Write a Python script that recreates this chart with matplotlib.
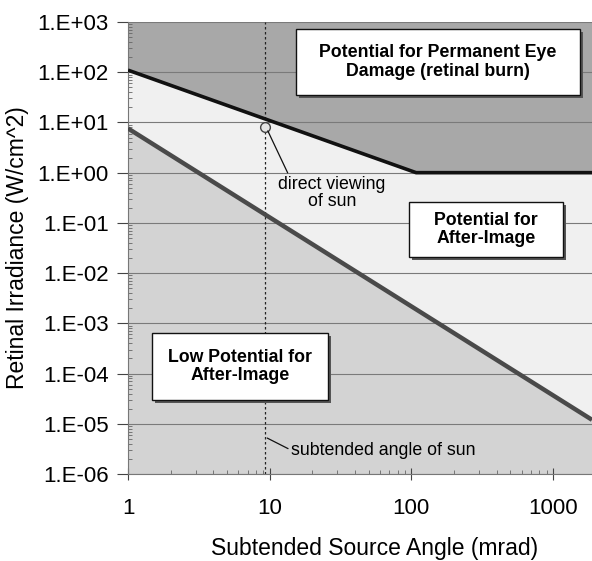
import matplotlib
matplotlib.use("Agg")
import matplotlib.pyplot as plt
from matplotlib.patches import Rectangle
import numpy as np

plt.rcParams['font.family'] = ['Liberation Sans', 'DejaVu Sans']

# ---- data ----
upper_x = [1, 108, 1883]          # permanent damage threshold (mrad)
upper_y = [110, 1.0, 1.0]         # W/cm^2
lower_x = [1, 1883]               # after-image threshold
lower_y = [7.6, 1.2e-5]           # W/cm^2
sun_angle = 9.3
sun_irr = 8.3
y_ticks = [1e-6, 1e-5, 1e-4, 1e-3, 1e-2, 1e-1, 1e0, 1e1, 1e2, 1e3]
y_ticklabels = ["1.E-06", "1.E-05", "1.E-04", "1.E-03", "1.E-02",
                "1.E-01", "1.E+00", "1.E+01", "1.E+02", "1.E+03"]
x_ticks = [1, 10, 100, 1000]
x_ticklabels = ["1", "10", "100", "1000"]

W, H = 592, 561
fig = plt.figure(figsize=(W / 100, H / 100), dpi=100)
L, R, T, B = 128, 592, 22, 474
ax = fig.add_axes([L / W, (H - B) / H, (R - L) / W, (B - T) / H])
ax.set_xscale('log')
ax.set_yscale('log')
ax.set_xlim(1, 1883)
ax.set_ylim(1e-6, 1e3)

# regions
xs = np.logspace(0, np.log10(1883), 400)
up = np.interp(np.log10(xs), np.log10(upper_x), np.log10(upper_y))
lo = np.interp(np.log10(xs), np.log10(lower_x), np.log10(lower_y))
ax.fill_between(xs, 10**up, 1e3, color='#a8a8a8', lw=0, zorder=0)
ax.fill_between(xs, 10**lo, 10**up, color='#f0f0f0', lw=0, zorder=0)
ax.fill_between(xs, 1e-6, 10**lo, color='#d3d3d3', lw=0, zorder=0)

# grid
for yv in y_ticks:
    ax.axhline(yv, color='#7a7a7a', lw=0.8, zorder=1)

ax.axvline(sun_angle, color='#222222', lw=0.9, ls=(0, (2, 2)), zorder=2)

ax.plot(upper_x, upper_y, color='#111111', lw=2.6, zorder=3, solid_capstyle='butt')
ax.plot(lower_x, lower_y, color='#4a4a4a', lw=3.2, zorder=3, solid_capstyle='butt')

ax.plot([sun_angle], [sun_irr], 'o', ms=7, mfc='#e6e6e6', mec='#444444', mew=1.0, zorder=4)

ax.annotate("direct viewing\nof sun", xy=(9.7, 6.8), xytext=(27.5, 0.40),
            ha='center', va='center', fontsize=12.8, linespacing=1.0,
            arrowprops=dict(arrowstyle='-', color='#111111', lw=0.9,
                            shrinkA=0, shrinkB=0, relpos=(0.1, 1.0)), zorder=5)
ax.annotate("subtended angle of sun", xy=(9.6, 5.2e-6), xytext=(14.1, 3.0e-6),
            ha='left', va='center', fontsize=12.8,
            arrowprops=dict(arrowstyle='-', color='#111111', lw=0.9,
                            shrinkA=0, shrinkB=0, relpos=(0.0, 0.5)), zorder=5)

# boxes (pixel estimates -> axes fraction)
def box(x0, x1, y0, y1, text):
    fx0 = (x0 - L) / (R - L); fx1 = (x1 - L) / (R - L)
    fy0 = (B - y1) / (B - T); fy1 = (B - y0) / (B - T)
    dx = 3 / (R - L); dy = 3 / (B - T)
    ax.add_patch(Rectangle((fx0 + dx, fy0 - dy), fx1 - fx0, fy1 - fy0,
                           transform=ax.transAxes, fc='#555555', ec='none', zorder=6))
    ax.add_patch(Rectangle((fx0, fy0), fx1 - fx0, fy1 - fy0,
                           transform=ax.transAxes, fc='white', ec='#111111', lw=1.0, zorder=7))
    ax.text((fx0 + fx1) / 2, (fy0 + fy1) / 2, text, transform=ax.transAxes,
            ha='center', va='center', fontsize=12.8, fontweight='bold',
            linespacing=1.1, zorder=8)

box(296, 580, 29, 95, "Potential for Permanent Eye\nDamage (retinal burn)")
box(409, 563, 202, 257, "Potential for\nAfter-Image")
box(152, 328, 333, 400, "Low Potential for\nAfter-Image")

ax.set_yticks(y_ticks)
ax.set_yticklabels(y_ticklabels, fontsize=16)
ax.set_xticks(x_ticks)
ax.set_xticklabels(x_ticklabels, fontsize=16)
ax.tick_params(axis='y', which='major', direction='out', length=8, width=0.8,
               color='#444444', pad=6)
ax.tick_params(axis='x', which='major', direction='inout', length=8, width=0.8,
               color='#444444', pad=13)
ax.tick_params(which='minor', direction='in', length=3, width=0.6, color='#666666')
ax.yaxis.set_minor_locator(matplotlib.ticker.LogLocator(base=10, subs=np.arange(2, 10)))
ax.yaxis.set_minor_formatter(matplotlib.ticker.NullFormatter())
ax.xaxis.set_minor_formatter(matplotlib.ticker.NullFormatter())

for s in ['top', 'right']:
    ax.spines[s].set_visible(False)
for s in ['left', 'bottom']:
    ax.spines[s].set_color('#777777')
    ax.spines[s].set_linewidth(0.8)

fig.text(375 / W, 1 - 548 / H, "Subtended Source Angle (mrad)", ha='center', va='center',
         fontsize=16.5)
fig.text(18 / W, 1 - 248 / H, "Retinal Irradiance (W/cm^2)", ha='center', va='center',
         rotation=90, fontsize=16.5)

fig.savefig("out.png", dpi=100)
